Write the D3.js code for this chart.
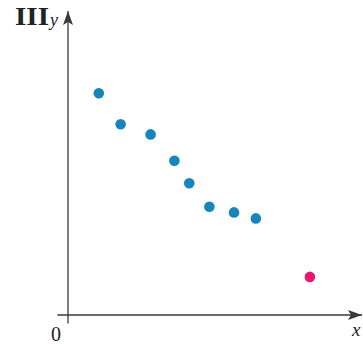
<!DOCTYPE html>
<html><head><meta charset="utf-8">
<script src="https://cdn.jsdelivr.net/npm/d3@7"></script>
<style>html,body{margin:0;padding:0;background:#fff;}</style>
</head><body>
<script>
const xValues = [1.1, 1.88, 2.95, 3.8, 4.33, 5.05, 5.93, 6.71];
const yValues = [7.39, 6.36, 6.02, 5.14, 4.39, 3.61, 3.42, 3.22];
const outlierX = [8.64];
const outlierY = [1.27];
const panelLabel = "III";
const axisLabels = {x: "x", y: "y", origin: "0"};

const W = 363, H = 344;
const svg = d3.select("body").append("svg").attr("width", W).attr("height", H);
const x = d3.scaleLinear().domain([0, 10]).range([68, 348]);
const y = d3.scaleLinear().domain([0, 10]).range([315, 15]);
const axisColor = "#3a3a3a";

svg.append("defs").append("marker").attr("id","arr").attr("viewBox","0 0 14 10")
  .attr("refX",14).attr("refY",5).attr("markerWidth",14).attr("markerHeight",10)
  .attr("markerUnits","userSpaceOnUse").attr("orient","auto")
  .append("path").attr("d","M0,0 L14,5 L0,10 L3,5 Z").attr("fill",axisColor);

// x axis
svg.append("line").attr("x1", x(-0.38)).attr("x2", 362).attr("y1", y(0)).attr("y2", y(0))
  .attr("stroke", axisColor).attr("stroke-width", 1.3).attr("marker-end","url(#arr)");
// y axis
svg.append("line").attr("x1", x(0)).attr("x2", x(0)).attr("y1", y(-0.28)).attr("y2", 11)
  .attr("stroke", axisColor).attr("stroke-width", 1.3).attr("marker-end","url(#arr)");

const pts = xValues.map((v,i)=>({x:v,y:yValues[i]}));
svg.selectAll("circle.main").data(pts).enter().append("circle").attr("class","main")
  .attr("cx", d=>x(d.x)).attr("cy", d=>y(d.y)).attr("r", 5.3).attr("fill", "#1685bb");
svg.selectAll("circle.out").data(outlierX.map((v,i)=>({x:v,y:outlierY[i]}))).enter().append("circle").attr("class","out")
  .attr("cx", d=>x(d.x)).attr("cy", d=>y(d.y)).attr("r", 5.3).attr("fill", "#e6186f");

svg.append("text").attr("x", 15).attr("y", 25).text(panelLabel)
  .attr("textLength", 34).attr("lengthAdjust","spacingAndGlyphs")
  .attr("font-family","Liberation Serif, DejaVu Serif, serif").attr("font-weight","bold").attr("font-size",25).attr("fill","#222");
svg.append("text").attr("x", 50).attr("y", 26).text(axisLabels.y)
  .attr("font-family","Liberation Serif, serif").attr("font-style","italic").attr("font-size",18).attr("fill","#222");
svg.append("text").attr("x", 51).attr("y", 341).text(axisLabels.origin)
  .attr("font-family","Liberation Serif, serif").attr("font-size",20).attr("fill","#222");
svg.append("text").attr("x", 352).attr("y", 336).text(axisLabels.x)
  .attr("font-family","Liberation Serif, serif").attr("font-style","italic").attr("font-size",19).attr("fill","#222");
</script>
</body></html>
